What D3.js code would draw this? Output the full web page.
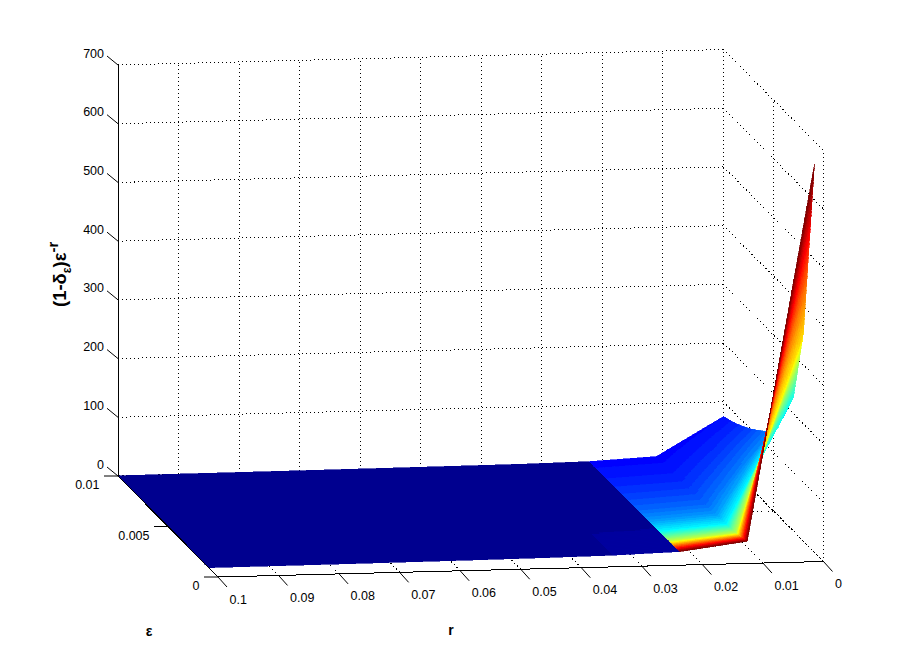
<!DOCTYPE html>
<html><head><meta charset="utf-8">
<script src="https://cdn.jsdelivr.net/npm/d3@7"></script>
<style>html,body{margin:0;background:#fff}svg{display:block}text{font-family:"Liberation Sans",Arial,sans-serif;fill:#000}</style>
</head><body><svg id="c" width="911" height="648"></svg>
<script>
const rTicks=[0,0.01,0.02,0.03,0.04,0.05,0.06,0.07,0.08,0.09,0.1];
const rTickLabels=["0","0.01","0.02","0.03","0.04","0.05","0.06","0.07","0.08","0.09","0.1"];
const epsTicks=[0,0.005,0.01];
const epsTickLabels=["0","0.005","0.01"];
const zTicks=[0,100,200,300,400,500,600,700];
// surface grid; 0.0222 appears twice because the colour jumps along that line
const rGrid=[0,0.0111,0.0222,0.0222,0.0333,0.0444,0.0556,0.0667,0.0778,0.0889,0.1];
const epsGrid=[0.0009,0.002,0.003,0.004,0.005,0.006,0.007,0.008,0.009,0.01];
const zByEps=[
[662,22,7.3,7.3,4,2.8,2,1.5,1,0.7,0.4],
[356,17,6.5,6.5,3.6,2.6,1.9,1.4,1,0.7,0.4],
[228,15,6,6,3.4,2.5,1.8,1.4,1,0.7,0.4],
[177,13.5,5.5,5.5,3.2,2.4,1.8,1.3,1,0.7,0.4],
[135,12.5,5.2,5.2,3,2.3,1.7,1.3,1,0.7,0.4],
[119,12,5,5,2.9,2.2,1.7,1.3,1,0.7,0.4],
[104,11,4.8,4.8,2.8,2.2,1.7,1.3,1,0.7,0.4],
[92,10.5,4.5,4.5,2.7,2.1,1.6,1.2,0.9,0.7,0.4],
[82,10,4.2,4.2,2.6,2.1,1.6,1.2,0.9,0.7,0.4],
[75,9.7,4,4,2.5,2,1.6,1.2,0.9,0.7,0.4]];
const colourByEps=[
[1,0.995,0.995,0.02,0.016,0,0,0,0,0,0],
[0.66,0.55,0.55,0.02,0.016,0,0,0,0,0,0],
[0.38,0.36,0.36,0.02,0.016,0,0,0,0,0,0],
[0.31,0.27,0.27,0,0,0,0,0,0,0,0],
[0.26,0.22,0.22,0,0,0,0,0,0,0,0],
[0.22,0.19,0.19,0,0,0,0,0,0,0,0],
[0.19,0.165,0.165,0,0,0,0,0,0,0,0],
[0.165,0.145,0.145,0,0,0,0,0,0,0,0],
[0.145,0.13,0.13,0,0,0,0,0,0,0,0],
[0.125,0.115,0.115,0,0,0,0,0,0,0,0]];

const xR=d3.scaleLinear([0,0.1],[823.5,218]), yR=d3.scaleLinear([0,0.1],[561.5,577]);
const xE=d3.scaleLinear([0,0.01],[0,-100]), yE=d3.scaleLinear([0,0.01],[0,-101]);
const zS=d3.scaleLinear([0,700],[0,-411]);
const P=(r,e,z)=>[xR(r)+xE(e), yR(r)+yE(e)+zS(z)];
const jet=d3.scaleLinear([0,7,23,39,55,63],["#00008f","#0000ff","#00ffff","#ffff00","#ff0000","#800000"]).clamp(true);
const jetAt=t=>jet(Math.min(63,Math.floor(t*64)));

const svg=d3.select("#c");
const grid=svg.append("g").attr("fill","none").attr("stroke","#000").attr("stroke-dasharray","1 3").attr("shape-rendering","crispEdges");
const seg=(g,a,b)=>g.append("line").attr("x1",a[0]).attr("y1",a[1]).attr("x2",b[0]).attr("y2",b[1]);
const eMax=0.01,rMax=0.1,zMax=700;
rTicks.forEach(r=>{ seg(grid,P(r,eMax,0),P(r,eMax,zMax)); seg(grid,P(r,0,0),P(r,eMax,0)); });
epsTicks.forEach(e=>{ seg(grid,P(0,e,0),P(0,e,zMax)); seg(grid,P(0,e,0),P(rMax,e,0)); });
zTicks.forEach(z=>{ seg(grid,P(rMax,eMax,z),P(0,eMax,z)); seg(grid,P(0,eMax,z),P(0,0,z)); });

const surf=svg.append("g").attr("shape-rendering","crispEdges");
for(let j=epsGrid.length-2;j>=0;j--){
  for(let i=rGrid.length-2;i>=0;i--){
    if(rGrid[i]===rGrid[i+1]) continue;
    const coloured=i<2, n=coloured?(j<3?36:18):8;
    const at=(u,v,m)=>(1-u)*(1-v)*m[j][i]+u*(1-v)*m[j][i+1]+(1-u)*v*m[j+1][i]+u*v*m[j+1][i+1];
    const pt=(u,v)=>P(rGrid[i]+u*(rGrid[i+1]-rGrid[i]),epsGrid[j]+v*(epsGrid[j+1]-epsGrid[j]),at(u,v,zByEps));
    for(let b=n-1;b>=0;b--)for(let a=0;a<n;a++){
      const u0=a/n,u1=(a+1)/n,v0=b/n,v1=(b+1)/n;
      const col=jetAt(at((u0+u1)/2,(v0+v1)/2,colourByEps));
      const path=d3.path();
      const q=[pt(u0,v0),pt(u1,v0),pt(u1,v1),pt(u0,v1)];
      path.moveTo(q[0][0],q[0][1]);q.slice(1).forEach(p=>path.lineTo(p[0],p[1]));path.closePath();
      surf.append("path").attr("d",path.toString()).attr("fill",col).attr("stroke",col).attr("stroke-width",0.6);
    }
  }
}

const ax=svg.append("g").attr("stroke","#000").attr("fill","none").attr("shape-rendering","crispEdges");
seg(ax,P(rMax,eMax,0),P(rMax,eMax,zMax));
seg(ax,P(rMax,eMax,0),P(rMax,0,0));
seg(ax,P(rMax,0,0),P(0,0,0));
const ticks=svg.append("g").attr("stroke","#000").attr("fill","none");
const label=(x,y,s,anchor)=>svg.append("text").attr("x",x).attr("y",y).attr("text-anchor",anchor).attr("font-size",12.5).text(s);
zTicks.forEach(z=>{const p=P(rMax,eMax,z); seg(ticks,p,[p[0]-11,p[1]-9]); label(p[0]-14,p[1]-7.5,String(z),"end");});
rTicks.forEach((r,i)=>{const p=P(r,0,0); seg(ticks,p,[p[0]+9,p[1]+10]); label(p[0]+11.5,p[1]+26.5,rTickLabels[i],"start");});
epsTicks.forEach((e,i)=>{const p=P(rMax,e,0); seg(ticks,[p[0]-14,p[1]],p); label(p[0]-18.5,p[1]+13,epsTickLabels[i],"end");});

svg.append("text").attr("x",149).attr("y",636).attr("text-anchor","middle").attr("font-weight","bold").attr("font-size",14).text("ε");
svg.append("text").attr("x",451).attr("y",635).attr("text-anchor","middle").attr("font-weight","bold").attr("font-size",14).text("r");
const yl=svg.append("text").attr("transform","translate(66,307) rotate(-90)").attr("font-weight","bold").attr("font-size",18.5);
yl.append("tspan").text("(1-δ");
yl.append("tspan").attr("dy",5).attr("font-size",12).text("ε");
yl.append("tspan").attr("dy",-5).text(")ε");
yl.append("tspan").attr("dy",-8).attr("font-size",15).text("-r");
</script></body></html>
